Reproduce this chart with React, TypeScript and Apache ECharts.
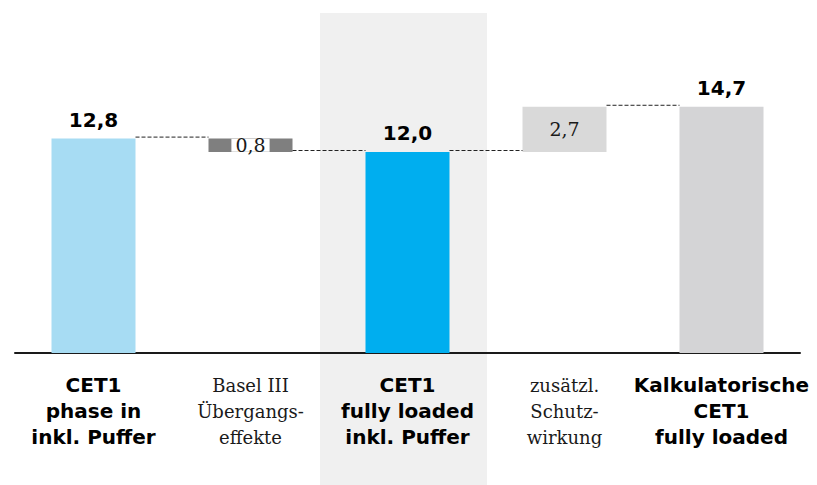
import React, { useEffect, useRef } from "react";
import * as echarts from "echarts";

const categories = [
  "CET1\nphase in\ninkl. Puffer",
  "Basel III\nÜbergangs-\neffekte",
  "CET1\nfully loaded\ninkl. Puffer",
  "zusätzl.\nSchutz-\nwirkung",
  "Kalkulatorische\nCET1\nfully loaded",
];
const values = [12.8, 0.8, 12.0, 2.7, 14.7];
const bases = [0, 12.0, 0, 12.0, 0];
const isTotal = [true, false, true, false, true];
const barColors = ["#a7dcf3", "#7f7f7f", "#00aeef", "#d9d9d9", "#d4d4d6"];
// connector lines between neighbouring bars: [fromIndex, level]
const connectors = [
  [0, 12.8],
  [1, 12.0],
  [2, 12.0],
  [3, 14.7],
];

const BAR_W = 84;
const fmt = (v: number) => v.toFixed(1).replace(".", ",");

export default function App() {
  const ref = useRef<HTMLDivElement>(null);
  useEffect(() => {
    if (!ref.current) return;
    const chart = echarts.init(ref.current, null, { renderer: "svg" });
    const sansBold = {
      fontFamily: "DejaVu Sans",
      fontWeight: "bold" as const,
      fontSize: 20,
      color: "#000",
      lineHeight: 26,
    };
    const serif = {
      fontFamily: "DejaVu Serif",
      fontSize: 18,
      color: "#1a1a1a",
      lineHeight: 26,
    };
    chart.setOption({
      animation: false,
      graphic: [
        {
          type: "rect",
          z: -10,
          silent: true,
          shape: { x: 320, y: 13, width: 167, height: 472 },
          style: { fill: "#f0f0f0" },
        },
      ],
      grid: { left: 15, right: 17, top: 18, bottom: 132 },
      xAxis: {
        type: "category",
        data: categories,
        axisLine: { show: true, lineStyle: { color: "#1a1a1a", width: 2 } },
        axisTick: { show: false },
        axisLabel: {
          interval: 0,
          margin: 19,
          formatter: (val: string, idx: number) =>
            val
              .split("\n")
              .map((l) => (isTotal[idx] ? `{b|${l}}` : `{s|${l}}`))
              .join("\n"),
          rich: { b: sansBold, s: serif },
        },
      },
      yAxis: {
        type: "value",
        min: 0,
        max: 20,
        show: false,
        splitLine: { show: false },
      },
      series: [
        {
          type: "bar",
          stack: "w",
          barWidth: BAR_W,
          silent: true,
          itemStyle: { color: "transparent" },
          emphasis: { disabled: true },
          data: bases,
        },
        {
          type: "bar",
          stack: "w",
          barWidth: BAR_W,
          emphasis: { disabled: true },
          data: values.map((v, i) => {
            let label: any;
            if (isTotal[i]) {
              label = {
                show: true,
                position: "top",
                distance: 9,
                formatter: () => fmt(v),
                fontFamily: "DejaVu Sans",
                fontWeight: "bold",
                fontSize: 20,
                color: "#000",
              };
            } else if (i === 1) {
              label = {
                show: true,
                position: "inside",
                formatter: () => fmt(v),
                fontFamily: "DejaVu Serif",
                fontSize: 19,
                color: "#1a1a1a",
                backgroundColor: "#fff",
                lineHeight: 13,
                padding: [0, 4],
              };
            } else {
              label = {
                show: true,
                position: "inside",
                formatter: () => fmt(v),
                fontFamily: "DejaVu Serif",
                fontSize: 19,
                color: "#1a1a1a",
              };
            }
            return { value: v, itemStyle: { color: barColors[i] }, label };
          }),
        },
        {
          type: "custom",
          silent: true,
          z: 3,
          data: connectors,
          renderItem: (params: any, api: any) => {
            const i = api.value(0);
            const y = api.value(1);
            const p0 = api.coord([i, y]);
            const p1 = api.coord([i + 1, y]);
            const hw = BAR_W / 2;
            return {
              type: "line",
              shape: {
                x1: p0[0] + hw,
                y1: p0[1] - 1.5,
                x2: p1[0] - hw,
                y2: p1[1] - 1.5,
              },
              style: { stroke: "#222", lineWidth: 1, lineDash: [4, 2] },
            };
          },
        },
      ],
    });
    return () => chart.dispose();
  }, []);
  return (
    <div
      ref={ref}
      style={{ position: "fixed", left: 0, top: 0, width: 817, height: 485, background: "#fff" }}
    />
  );
}
